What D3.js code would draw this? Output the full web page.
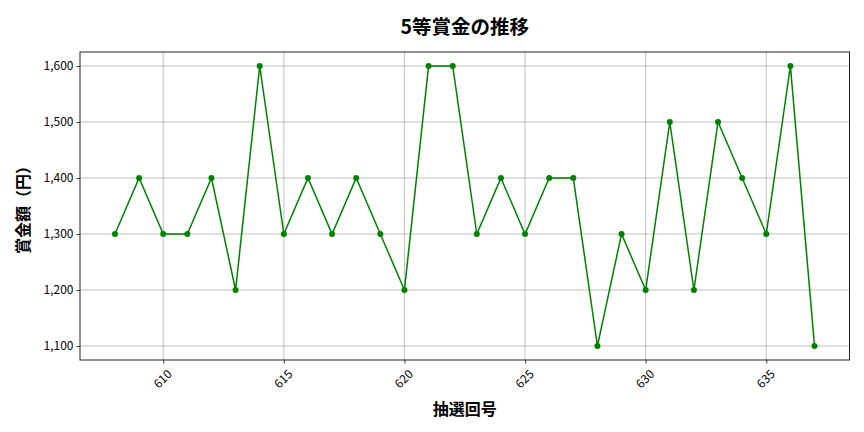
<!DOCTYPE html>
<html>
<head>
<meta charset="utf-8">
<script src="https://cdn.jsdelivr.net/npm/d3@7"></script>
<style>
  body { margin: 0; background: #fff; }
  svg, svg text { font-family: "Noto Sans CJK JP", "Noto Sans", sans-serif; }
</style>
</head>
<body>
<svg width="864" height="432"></svg>
<script>
// draw numbers and 5th-prize amounts
var draws = d3.range(608, 638);
var prizes = [1300, 1400, 1300, 1300, 1400, 1200, 1600, 1300, 1400, 1300,
              1400, 1300, 1200, 1600, 1600, 1300, 1400, 1300, 1400, 1400,
              1100, 1300, 1200, 1500, 1200, 1500, 1400, 1300, 1600, 1100];
var xTicks = [610, 615, 620, 625, 630, 635];
var yTicks = [1100, 1200, 1300, 1400, 1500, 1600];

var data = draws.map(function(d, i) { return {draw: d, prize: prizes[i]}; });

var svg = d3.select('svg');
var plotL = 80, plotR = 849.5, plotT = 52, plotB = 360;

var x = d3.scaleLinear().domain([606.55, 638.45]).range([plotL, plotR]);
var y = d3.scaleLinear().domain([1075, 1625]).range([plotB, plotT]);

// grid
svg.append('g').selectAll('line').data(xTicks).enter().append('line')
    .attr('x1', function(d) { return x(d); }).attr('x2', function(d) { return x(d); })
    .attr('y1', plotT).attr('y2', plotB)
    .attr('stroke', '#b0b0b0').attr('stroke-width', 0.8);
svg.append('g').selectAll('line').data(yTicks).enter().append('line')
    .attr('y1', function(d) { return y(d); }).attr('y2', function(d) { return y(d); })
    .attr('x1', plotL).attr('x2', plotR)
    .attr('stroke', '#b0b0b0').attr('stroke-width', 0.8);

// axes
var xAxis = svg.append('g').attr('transform', 'translate(0,' + plotB + ')')
    .call(d3.axisBottom(x).tickValues(xTicks).tickSize(3.5).tickPadding(3).tickFormat(d3.format('d')));
// rotated labels, centred under the tick like matplotlib rotation=45
xAxis.selectAll('text')
    .style('font-size', '12px').attr('fill', '#000')
    .attr('text-anchor', 'middle')
    .attr('x', 0).attr('y', 0).attr('dy', '0.35em')
    .attr('transform', 'translate(-1,19) rotate(-45)');

var yAxis = svg.append('g').attr('transform', 'translate(' + plotL + ',0)')
    .call(d3.axisLeft(y).tickValues(yTicks).tickSize(3.5).tickPadding(3).tickFormat(d3.format(',')));
yAxis.selectAll('text').style('font-size', '12px').attr('fill', '#000');

svg.selectAll('.domain').remove();
svg.selectAll('.tick line').attr('stroke', '#000').attr('stroke-width', 0.8);

// frame
svg.append('rect').attr('x', plotL).attr('y', plotT)
    .attr('width', plotR - plotL).attr('height', plotB - plotT)
    .attr('fill', 'none').attr('stroke', '#222').attr('stroke-width', 1);

// line + markers
var line = d3.line().x(function(d) { return x(d.draw); }).y(function(d) { return y(d.prize); });
svg.append('path').datum(data).attr('d', line)
    .attr('fill', 'none').attr('stroke', 'green').attr('stroke-width', 1.5);
svg.append('g').selectAll('circle').data(data).enter().append('circle')
    .attr('cx', function(d) { return x(d.draw); })
    .attr('cy', function(d) { return y(d.prize); })
    .attr('r', 3).attr('fill', 'green');

// labels
svg.append('text').attr('x', (plotL + plotR) / 2).attr('y', 25)
    .attr('dominant-baseline', 'central')
    .attr('text-anchor', 'middle').style('font-size', '19.5px').style('font-weight', 'bold')
    .text('5等賞金の推移');
svg.append('text').attr('x', (plotL + plotR) / 2).attr('y', 408)
    .attr('dominant-baseline', 'central')
    .attr('text-anchor', 'middle').style('font-size', '16px').style('font-weight', 'bold')
    .text('抽選回号');
svg.append('text').attr('transform', 'translate(22,' + ((plotT + plotB) / 2) + ') rotate(-90)')
    .attr('dominant-baseline', 'central')
    .attr('text-anchor', 'middle').style('font-size', '16px').style('font-weight', 'bold')
    .text('賞金額（円）');
</script>
</body>
</html>
